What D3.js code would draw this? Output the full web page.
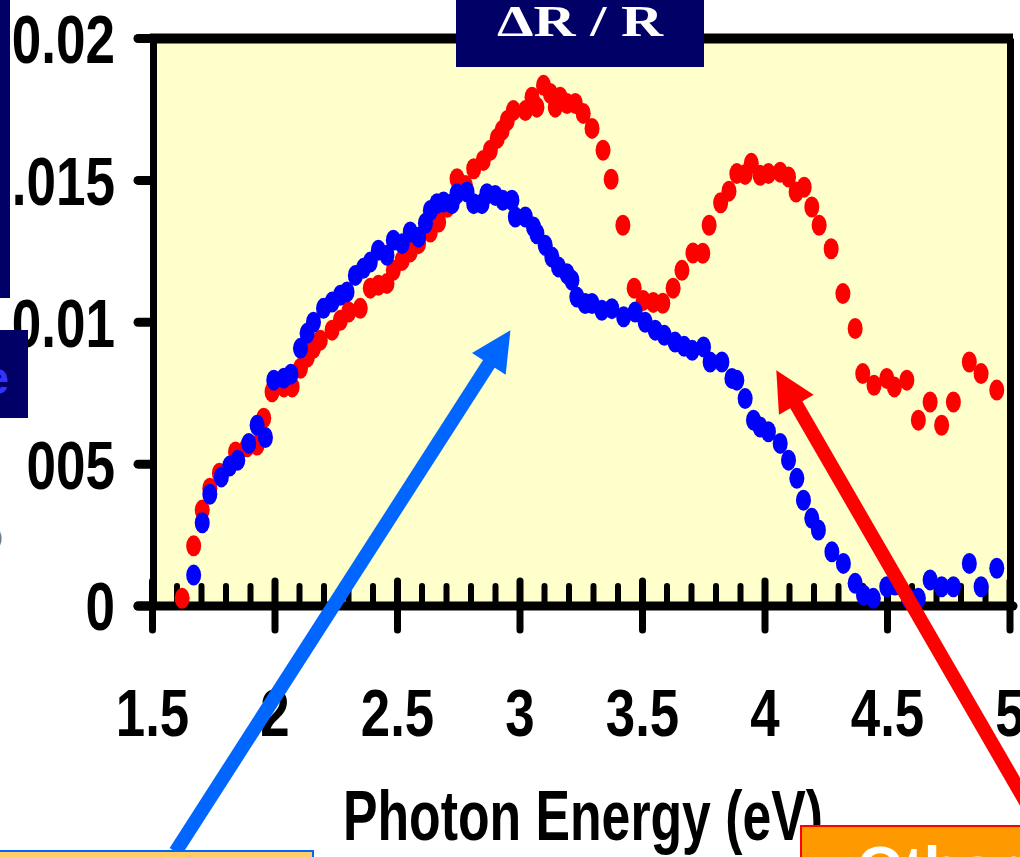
<!DOCTYPE html>
<html><head><meta charset="utf-8">
<script src="https://cdn.jsdelivr.net/npm/d3@7"></script>
<style>html,body{margin:0;padding:0;background:#fff;overflow:hidden}</style>
</head><body><svg id="c" width="1020" height="857"></svg>
<script>
// ---- data (photon energy in eV, ΔR/R) ----
const redE = [1.621,1.668,1.703,1.734,1.773,1.839,1.886,1.927,1.954,1.988,2.036,2.070,2.104,2.132,2.157,2.185,2.233,2.267,2.301,2.348,2.389,2.422,2.457,2.483,2.519,2.552,2.586,2.634,2.668,2.703,2.743,2.777,2.811,2.850,2.879,2.907,2.927,2.948,2.973,3.022,3.049,3.069,3.096,3.124,3.144,3.164,3.192,3.226,3.258,3.294,3.339,3.372,3.420,3.466,3.503,3.544,3.583,3.625,3.661,3.706,3.746,3.772,3.819,3.853,3.885,3.919,3.944,3.980,4.014,4.062,4.096,4.127,4.160,4.191,4.221,4.270,4.318,4.368,4.399,4.445,4.497,4.528,4.579,4.626,4.674,4.721,4.769,4.834,4.882,4.946];
const redV = [0.00027,0.00212,0.00338,0.00415,0.00468,0.00543,0.00561,0.00567,0.00662,0.00755,0.00772,0.00772,0.00838,0.00877,0.00908,0.00937,0.00972,0.01007,0.01036,0.01049,0.01120,0.01130,0.01137,0.01183,0.01218,0.01248,0.01277,0.01318,0.01353,0.01405,0.01506,0.01482,0.01541,0.01570,0.01606,0.01648,0.01676,0.01711,0.01746,0.01746,0.01793,0.01758,0.01835,0.01806,0.01758,0.01793,0.01771,0.01771,0.01736,0.01683,0.01606,0.01504,0.01342,0.01120,0.01077,0.01070,0.01067,0.01120,0.01183,0.01244,0.01243,0.01342,0.01421,0.01462,0.01524,0.01521,0.01560,0.01518,0.01524,0.01529,0.01512,0.01459,0.01476,0.01406,0.01342,0.01259,0.01101,0.00978,0.00819,0.00778,0.00802,0.00772,0.00796,0.00655,0.00719,0.00637,0.00719,0.00860,0.00819,0.00761];
const blueE = [1.668,1.703,1.734,1.781,1.815,1.848,1.893,1.927,1.961,1.995,2.036,2.065,2.104,2.131,2.157,2.198,2.233,2.267,2.294,2.328,2.361,2.389,2.422,2.457,2.483,2.519,2.552,2.586,2.614,2.634,2.661,2.688,2.723,2.743,2.784,2.811,2.845,2.865,2.899,2.930,2.967,2.981,3.022,3.055,3.069,3.103,3.130,3.157,3.192,3.212,3.232,3.266,3.294,3.334,3.375,3.423,3.470,3.511,3.552,3.589,3.633,3.670,3.703,3.749,3.776,3.824,3.865,3.885,3.919,3.953,3.980,4.014,4.062,4.096,4.130,4.157,4.191,4.218,4.273,4.320,4.368,4.402,4.442,4.497,4.531,4.585,4.626,4.674,4.721,4.769,4.834,4.882,4.946];
const blueV = [0.00109,0.00293,0.00394,0.00455,0.00493,0.00514,0.00573,0.00637,0.00594,0.00796,0.00803,0.00817,0.00908,0.00961,0.01000,0.01049,0.01071,0.01095,0.01107,0.01165,0.01190,0.01212,0.01254,0.01236,0.01289,0.01277,0.01318,0.01300,0.01349,0.01394,0.01418,0.01424,0.01418,0.01453,0.01459,0.01418,0.01418,0.01453,0.01447,0.01430,0.01430,0.01371,0.01371,0.01336,0.01312,0.01271,0.01230,0.01195,0.01171,0.01148,0.01089,0.01066,0.01066,0.01042,0.01048,0.01019,0.01036,0.01000,0.00972,0.00954,0.00930,0.00915,0.00901,0.00913,0.00860,0.00860,0.00802,0.00796,0.00731,0.00655,0.00631,0.00614,0.00573,0.00514,0.00450,0.00373,0.00309,0.00268,0.00191,0.00150,0.00080,0.00039,0.00027,0.00068,0.00074,0.00027,0.00027,0.00092,0.00068,0.00068,0.00150,0.00068,0.00133];
const xTicks = [1.5,2,2.5,3,3.5,4,4.5,5];
const xTickLabels = ["1.5","2","2.5","3","3.5","4","4.5","5"];
const yTicks = [0,0.005,0.01,0.015,0.02];
const yTickLabels = ["0","0.005","0.01","0.015","0.02"];
const titleText = "ΔR / R";
const xTitle = "Photon Energy (eV)";
// annotation arrows (data coordinates): [tailE, tailV, tipE, tipV]
const blueArrow = [1.594,-0.00866,2.961,0.00972];
const redArrow = [5.204,-0.00898,4.046,0.00831];

const SANS = "'Liberation Sans',Arial,Helvetica,sans-serif";
const svg = d3.select("#c");
const x = d3.scaleLinear().domain([1.5,5]).range([152.5,1010]);
const y = d3.scaleLinear().domain([0,0.02]).range([606,38.5]);

// plot background
svg.append("rect").attr("x",x(1.5)).attr("y",y(0.02)).attr("width",x(5)-x(1.5)).attr("height",y(0)-y(0.02)).attr("fill","#ffffcc");

// frame
svg.append("line").attr("x1",150).attr("x2",x(5)+3).attr("y1",y(0.02)).attr("y2",y(0.02)).attr("stroke","#000").attr("stroke-width",10);
svg.append("line").attr("x1",x(5)+0.5).attr("x2",x(5)+0.5).attr("y1",y(0.02)).attr("y2",y(0)).attr("stroke","#000").attr("stroke-width",7);
svg.append("line").attr("x1",x(1.5)+1).attr("x2",x(1.5)+1).attr("y1",y(0.02)-4).attr("y2",y(0)).attr("stroke","#000").attr("stroke-width",7);

// minor x ticks every 0.1
const minor = d3.range(16,50).map(i=>i/10).filter(v=>Math.abs(v*2-Math.round(v*2))>1e-6);
svg.append("g").selectAll("line").data(minor).join("line")
  .attr("x1",d=>x(d)).attr("x2",d=>x(d)).attr("y1",y(0)).attr("y2",586)
  .attr("stroke","#000").attr("stroke-width",6).attr("stroke-linecap","round");
// major x ticks
svg.append("g").selectAll("line").data(xTicks).join("line")
  .attr("x1",d=>x(d)).attr("x2",d=>x(d)).attr("y1",581).attr("y2",630)
  .attr("stroke","#000").attr("stroke-width",7).attr("stroke-linecap","round");
// x axis line
svg.append("line").attr("x1",138).attr("x2",x(5)+3).attr("y1",y(0)).attr("y2",y(0)).attr("stroke","#000").attr("stroke-width",9).attr("stroke-linecap","round");
// y ticks
svg.append("g").selectAll("line").data(yTicks).join("line")
  .attr("x1",138).attr("x2",x(1.5)).attr("y1",d=>y(d)).attr("y2",d=>y(d))
  .attr("stroke","#000").attr("stroke-width",9).attr("stroke-linecap","round");

// tick labels (condensed bold)
svg.append("g").selectAll("text").data(yTicks).join("text")
  .attr("transform",d=>`translate(115,${y(d)}) scale(0.78,1)`).attr("dy","0.36em").attr("text-anchor","end")
  .attr("font-family",SANS).attr("font-weight","bold").attr("font-size",68).attr("fill","#000")
  .text((d,i)=>yTickLabels[i]);
svg.append("g").selectAll("text").data(xTicks).join("text")
  .attr("transform",d=>`translate(${x(d)},736) scale(0.8,1)`).attr("text-anchor","middle")
  .attr("font-family",SANS).attr("font-weight","bold").attr("font-size",66).attr("fill","#000")
  .text((d,i)=>xTickLabels[i]);

// data points
svg.append("g").selectAll("ellipse").data(redE.map((e,i)=>[e,redV[i]])).join("ellipse")
  .attr("cx",d=>x(d[0])).attr("cy",d=>y(d[1])).attr("rx",7.5).attr("ry",10.5).attr("fill","#ff0000");
svg.append("g").selectAll("ellipse").data(blueE.map((e,i)=>[e,blueV[i]])).join("ellipse")
  .attr("cx",d=>x(d[0])).attr("cy",d=>y(d[1])).attr("rx",7.5).attr("ry",10.5).attr("fill","#0000ff");

// x title
svg.append("text").attr("x",343).attr("y",840)
  .attr("font-family",SANS).attr("font-weight","bold").attr("font-size",70).attr("fill","#000")
  .attr("textLength",480).attr("lengthAdjust","spacingAndGlyphs")
  .text(xTitle);

// arrows
function arrow(a,color){
  const tx=x(a[0]),ty=y(a[1]),hx=x(a[2]),hy=y(a[3]);
  const dx=hx-tx,dy=hy-ty,len=Math.hypot(dx,dy),ux=dx/len,uy=dy/len,nx=-uy,ny=ux;
  const L=40,W=20,bx=hx-L*ux,by=hy-L*uy;
  svg.append("line").attr("x1",tx).attr("y1",ty).attr("x2",bx+ux*2).attr("y2",by+uy*2).attr("stroke",color).attr("stroke-width",14);
  svg.append("polygon").attr("points",[[hx,hy],[bx+W*nx,by+W*ny],[bx-W*nx,by-W*ny]].map(p=>p.join(",")).join(" ")).attr("fill",color);
}
arrow(blueArrow,"#0066ff");
arrow(redArrow,"#ff0000");

// title box
svg.append("rect").attr("x",456).attr("y",-2).attr("width",248).attr("height",69).attr("fill","#000066");
svg.append("text").attr("x",497).attr("y",36)
  .attr("font-family","'Liberation Serif','Times New Roman',serif").attr("font-weight","bold").attr("font-size",44)
  .attr("textLength",166).attr("lengthAdjust","spacingAndGlyphs").attr("fill","#fff").text(titleText);

// left-side overlapping slide elements
svg.append("rect").attr("x",0).attr("y",0).attr("width",10).attr("height",298).attr("fill","#000066");
svg.append("rect").attr("x",0).attr("y",330).attr("width",28).attr("height",88).attr("fill","#000066");
svg.append("text").attr("x",9).attr("y",394).attr("text-anchor","end").attr("font-family",SANS).attr("font-weight","bold").attr("font-size",46).attr("fill","#3333ff").text("e");
svg.append("rect").attr("x",0).attr("y",436).attr("width",27).attr("height",56).attr("fill","#fff");
svg.append("text").attr("x",-4).attr("y",544).attr("font-family",SANS).attr("font-size",20).attr("fill","#777").text(")");

// bottom boxes
svg.append("rect").attr("x",-5).attr("y",851).attr("width",318).attr("height",20).attr("fill","#ffcc66").attr("stroke","#0066ff").attr("stroke-width",2);
svg.append("rect").attr("x",801).attr("y",826).attr("width",240).attr("height",40).attr("fill","#ff9900").attr("stroke","#ff0000").attr("stroke-width",2);
svg.append("text").attr("x",857).attr("y",888).attr("font-family",SANS).attr("font-weight","bold").attr("font-size",60).attr("fill","#fff").text("Other");
</script></body></html>
